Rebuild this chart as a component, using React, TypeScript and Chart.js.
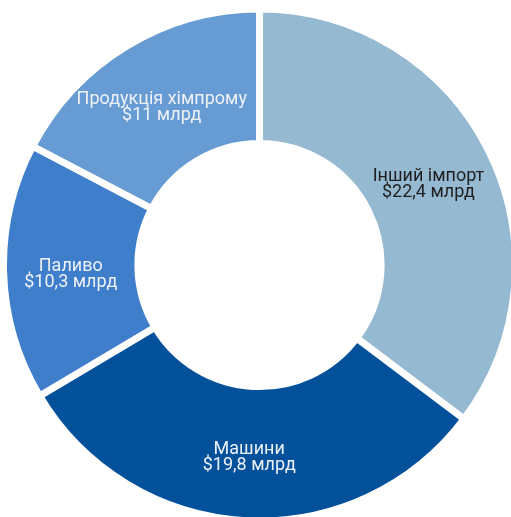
import React, { useEffect, useRef } from "react";
import { Chart, registerables } from "chart.js";

Chart.register(...registerables);

const categories = ["Інший імпорт", "Машини", "Паливо", "Продукція хімпрому"];
const values = [22.4, 19.8, 10.3, 11];
const valueLabels = ["$22,4 млрд", "$19,8 млрд", "$10,3 млрд", "$11 млрд"];
const colors = ["#96b9d2", "#03519b", "#3f7ecb", "#679bd3"];
const textColors = ["#1f1f1f", "#eef2f8", "#eef2f8", "#eef2f8"];

const labelPlugin = {
  id: "sliceLabels",
  afterDatasetsDraw(chart: any) {
    const ctx = chart.ctx;
    const meta = chart.getDatasetMeta(0);
    ctx.save();
    ctx.font = "18px Roboto";
    ctx.textAlign = "center";
    ctx.textBaseline = "middle";
    meta.data.forEach((arc: any, i: number) => {
      const p = arc.tooltipPosition();
      ctx.fillStyle = textColors[i];
      ctx.fillText(categories[i], p.x, p.y - 4);
      ctx.fillText(valueLabels[i], p.x, p.y + 12);
    });
    ctx.restore();
  },
};

export default function App() {
  const ref = useRef<HTMLCanvasElement>(null);
  useEffect(() => {
    document.body.style.margin = "0";
    const chart = new Chart(ref.current!, {
      type: "doughnut",
      data: {
        labels: categories,
        datasets: [
          {
            data: values,
            backgroundColor: colors,
            borderColor: "#ffffff",
            borderWidth: 7,
          },
        ],
      },
      options: {
        animation: false,
        responsive: false,
        cutout: "47.5%",
        layout: { padding: 0 },
        plugins: { legend: { display: false }, tooltip: { enabled: false } },
      },
      plugins: [labelPlugin],
    });
    return () => chart.destroy();
  }, []);
  return (
    <div style={{ position: "absolute", left: 0, top: 0, width: 511, height: 517, overflow: "hidden" }}>
      <canvas ref={ref} width={519} height={530} style={{ width: 519, height: 530 }} />
    </div>
  );
}
